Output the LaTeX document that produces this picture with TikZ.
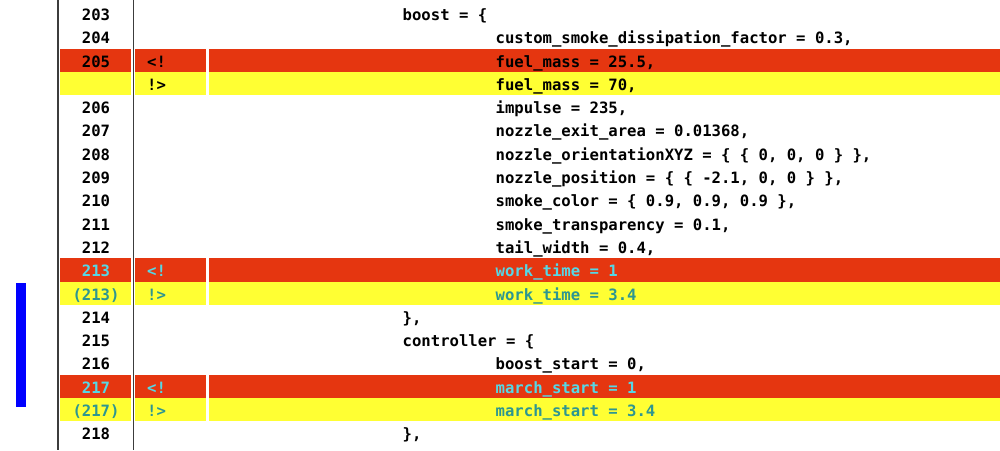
\documentclass[tikz,border=0pt]{standalone}
\usepackage{fontspec}
\setmonofont{DejaVu Sans Mono}
\definecolor{delred}{RGB}{229,54,16}
\definecolor{insyellow}{RGB}{255,255,51}
\definecolor{chgcyan}{RGB}{85,215,230}
\definecolor{chgteal}{RGB}{45,150,145}
\definecolor{markblue}{RGB}{0,0,255}
\definecolor{rulegray}{RGB}{60,60,60}
\begin{document}
\begin{tikzpicture}[
			x=1pt, y=-1pt,
			txt/.style={inner sep=0pt, font=\fontsize{15.6}{16}\ttfamily\bfseries},
			numtxt/.style={txt, anchor=base},
			marktxt/.style={txt, anchor=base west},
			codetxt/.style={txt, anchor=base west},
			sepline/.style={rulegray, line width=1.6pt}
		]
		\useasboundingbox (0,0) rectangle (1000,450);
		\fill[white] (0,0) rectangle (1000,450);
		% changed rows
		\foreach \i/\c in {2/delred,3/insyellow,11/delred,12/insyellow,16/delred,17/insyellow} {
				\fill[\c] (59.5,{1.9+23.3*\i}) rectangle (131.2,{25.2+23.3*\i});
				\fill[\c] (134.6,{1.9+23.3*\i}) rectangle (205.6,{25.2+23.3*\i});
				\fill[\c] (208.7,{1.9+23.3*\i}) rectangle (1000,{25.2+23.3*\i});
			}
		\draw[sepline] (57.7,0) -- (57.7,450);
		\draw[sepline] (133.3,0) -- (133.3,450);
		\fill[markblue] (16,283.3) rectangle (26,406.7);
		% unchanged lines
		\foreach \i/\n/\lv/\t in {
				0/203/1/{boost = \{},
				1/204/2/{custom\_smoke\_dissipation\_factor = 0.3,},
				4/206/2/{impulse = 235,},
				5/207/2/{nozzle\_exit\_area = 0.01368,},
				6/208/2/{nozzle\_orientationXYZ = \{ \{ 0, 0, 0 \} \},},
				7/209/2/{nozzle\_position = \{ \{ -2.1, 0, 0 \} \},},
				8/210/2/{smoke\_color = \{ 0.9, 0.9, 0.9 \},},
				9/211/2/{smoke\_transparency = 0.1,},
				10/212/2/{tail\_width = 0.4,},
				13/214/1/{\},},
				14/215/1/{controller = \{},
				15/216/2/{boost\_start = 0,},
				18/218/1/{\},}
			} {
				\node[numtxt] (num\n) at (96,{20.4+23.3*\i}) {\n};
				\node[codetxt] (code\n) at ({402.5+93*(\lv-1)},{20.4+23.3*\i}) {\t};
			}
		% changed lines
		\node[numtxt] (num205) at (96,{20.4+23.3*2}) {205};
		\node[marktxt] (mark205) at (147,{20.4+23.3*2}) {<!};
		\node[codetxt] (code205) at (495.5,{20.4+23.3*2}) {fuel\_mass = 25.5,};
		\node[marktxt] (mark205new) at (147,{20.4+23.3*3}) {!>};
		\node[codetxt] (code205new) at (495.5,{20.4+23.3*3}) {fuel\_mass = 70,};
		\node[numtxt, chgcyan] (num213) at (96,{20.4+23.3*11}) {213};
		\node[marktxt, chgcyan] (mark213) at (147,{20.4+23.3*11}) {<!};
		\node[codetxt, chgcyan] (code213) at (495.5,{20.4+23.3*11}) {work\_time = 1};
		\node[numtxt, chgteal] (num213new) at (96,{20.4+23.3*12}) {(213)};
		\node[marktxt, chgteal] (mark213new) at (147,{20.4+23.3*12}) {!>};
		\node[codetxt, chgteal] (code213new) at (495.5,{20.4+23.3*12}) {work\_time = 3.4};
		\node[numtxt, chgcyan] (num217) at (96,{20.4+23.3*16}) {217};
		\node[marktxt, chgcyan] (mark217) at (147,{20.4+23.3*16}) {<!};
		\node[codetxt, chgcyan] (code217) at (495.5,{20.4+23.3*16}) {march\_start = 1};
		\node[numtxt, chgteal] (num217new) at (96,{20.4+23.3*17}) {(217)};
		\node[marktxt, chgteal] (mark217new) at (147,{20.4+23.3*17}) {!>};
		\node[codetxt, chgteal] (code217new) at (495.5,{20.4+23.3*17}) {march\_start = 3.4};
	\end{tikzpicture}
\end{document}
